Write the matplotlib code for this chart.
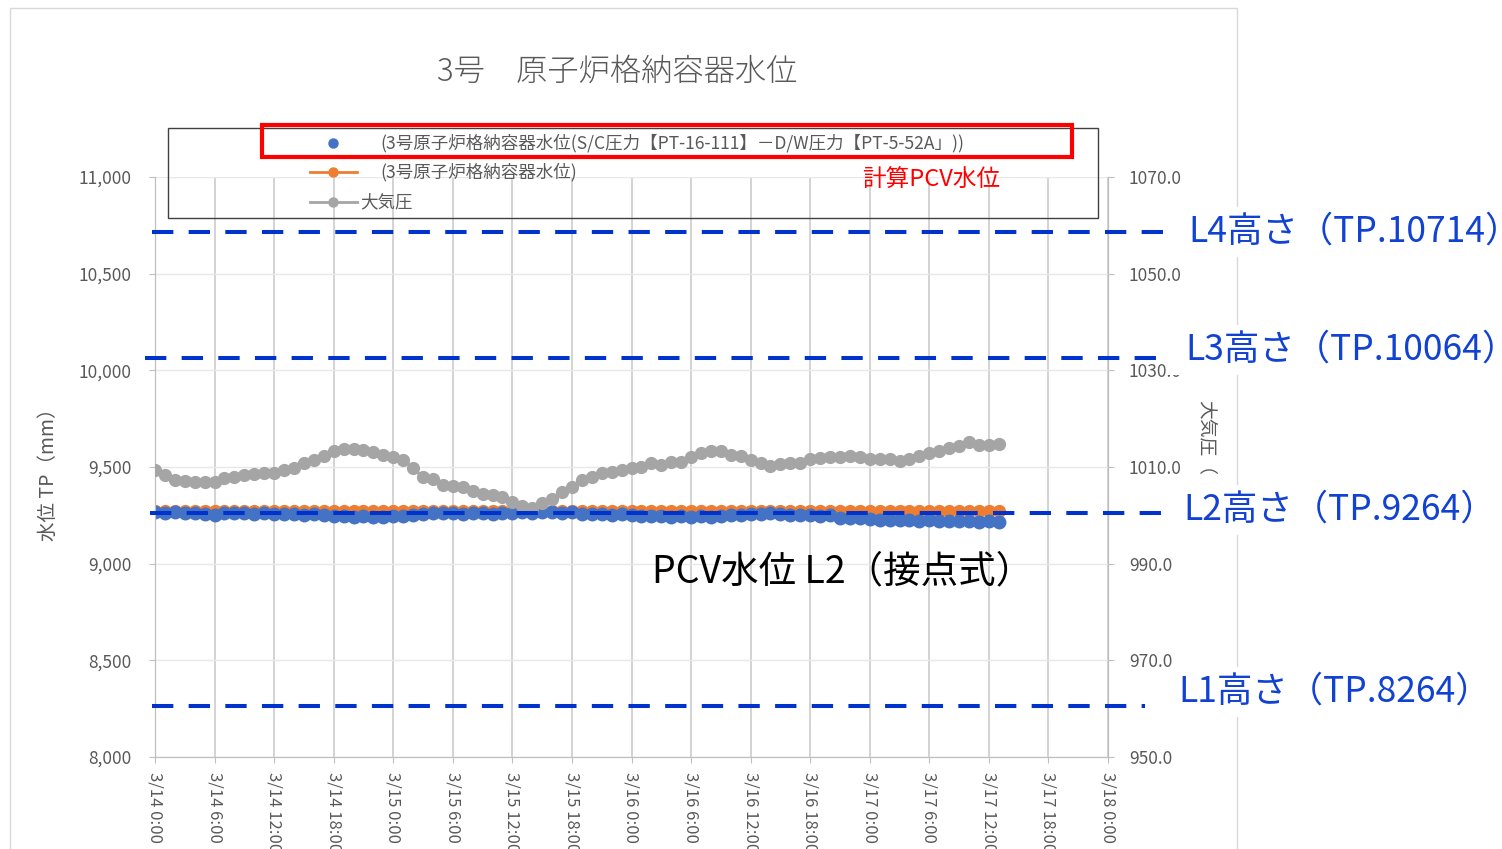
import matplotlib
matplotlib.use('Agg')
import matplotlib.pyplot as plt
import matplotlib.transforms as mtransforms
from matplotlib.lines import Line2D
from matplotlib.patches import Rectangle
import pandas as pd

plt.rcParams['font.family'] = ['Noto Sans CJK JP', 'DejaVu Sans']

# DATA (hourly, 3/14 0:00 - 3/17 13:00)
times = pd.date_range('2022-03-14 00:00', periods=86, freq='h')

# 3号 原子炉格納容器水位 (S/C圧力 - D/W圧力) [mm]
pcv_level = [
    9265, 9264, 9266, 9262, 9260, 9255, 9250, 9262, 9260, 9262,
    9258, 9260, 9258, 9255, 9256, 9252, 9255, 9250, 9248, 9245,
    9242, 9245, 9240, 9243, 9245, 9248, 9250, 9255, 9262, 9260,
    9262, 9258, 9260, 9262, 9258, 9260, 9262, 9265, 9264, 9265,
    9266, 9264, 9265, 9258, 9255, 9256, 9252, 9255, 9250, 9248,
    9245, 9248, 9242, 9245, 9240, 9244, 9242, 9245, 9250, 9252,
    9255, 9258, 9260, 9255, 9252, 9250, 9252, 9248, 9250, 9238,
    9235, 9236, 9232, 9228, 9226, 9225, 9224, 9222, 9225, 9222,
    9220, 9222, 9220, 9218, 9220, 9218,
]

# 3号 原子炉格納容器水位 (計算PCV水位) [mm]
calc_level = [
    9272, 9272, 9273, 9272, 9272, 9272, 9271, 9272, 9272, 9273,
    9272, 9272, 9272, 9272, 9273, 9272, 9272, 9272, 9271, 9272,
    9272, 9272, 9272, 9273, 9272, 9272, 9272, 9272, 9272, 9271,
    9272, 9272, 9273, 9272, 9272, 9272, 9272, 9272, 9271, 9272,
    9272, 9273, 9272, 9272, 9272, 9272, 9272, 9271, 9272, 9272,
    9272, 9273, 9272, 9272, 9272, 9272, 9272, 9271, 9272, 9272,
    9272, 9273, 9272, 9272, 9272, 9272, 9272, 9271, 9272, 9272,
    9272, 9273, 9272, 9272, 9272, 9272, 9272, 9271, 9272, 9272,
    9272, 9273, 9272, 9272, 9272, 9272,
]

# 大気圧 [hPa]
pressure = [
    1009.4, 1008.3, 1007.3, 1007.1, 1006.8, 1007.0, 1007.0, 1007.7, 1007.9, 1008.3,
    1008.5, 1008.8, 1008.8, 1009.4, 1009.7, 1010.9, 1011.4, 1012.3, 1013.4, 1013.7,
    1013.7, 1013.5, 1013.2, 1012.5, 1012.0, 1011.4, 1009.7, 1007.9, 1007.5, 1006.3,
    1006.1, 1005.9, 1005.1, 1004.5, 1004.2, 1003.7, 1002.8, 1001.9, 1001.6, 1002.6,
    1003.3, 1004.9, 1005.9, 1007.3, 1007.9, 1008.7, 1009.0, 1009.4, 1009.7, 1010.1,
    1010.8, 1010.4, 1011.1, 1011.1, 1012.1, 1012.8, 1013.4, 1013.4, 1012.5, 1012.3,
    1011.4, 1010.9, 1010.2, 1010.6, 1010.9, 1010.9, 1011.6, 1011.8, 1012.0, 1012.1,
    1012.3, 1012.0, 1011.6, 1011.6, 1011.6, 1011.3, 1011.6, 1012.3, 1013.0, 1013.4,
    1013.9, 1014.3, 1015.2, 1014.5, 1014.5, 1014.8,
]

# 接点式水位計 高さ
level_names = ['L4', 'L3', 'L2', 'L1']
level_values = [10714, 10064, 9264, 8264]

x_ticks = pd.date_range('2022-03-14 00:00', '2022-03-18 00:00', freq='6h')
x_tick_labels = [f'{t.month}/{t.day} {t.hour}:00' for t in x_ticks]
left_ticks = [8000, 8500, 9000, 9500, 10000, 10500, 11000]
right_ticks = [950, 970, 990, 1010, 1030, 1050, 1070]

# STYLE
W, H = 1502, 849
BLUE = '#4472C4'
ORANGE = '#ED7D31'
GRAY = '#A5A5A5'
TXT = '#595959'
DASH = '#0033CC'
LBL = '#1142D2'


def fx(x):
    return x / W


def fy(y):
    return 1 - y / H


fig = plt.figure(figsize=(W / 100, H / 100), dpi=100)
ax = fig.add_axes([fx(155), fy(757), (1108 - 155) / W, (757 - 177) / H])
ax2 = ax.twinx()

# series
ax.plot(times, calc_level, color=ORANGE, lw=2.2, marker='o', ms=8.5, zorder=3)
ax.plot(times, pcv_level, color=BLUE, ls='none', marker='o', ms=9, zorder=4)
ax2.plot(times, pressure, color=GRAY, lw=2.2, marker='o', ms=8.5, zorder=3)

ax.set_xlim(x_ticks[0], x_ticks[-1])
ax.set_ylim(8000, 11000)
ax2.set_ylim(950, 1070)

ax.set_xticks(x_ticks)
ax.set_xticklabels(x_tick_labels, rotation=270, ha='center', va='top')
ax.set_yticks(left_ticks)
ax.set_yticklabels([f'{v:,}' for v in left_ticks])
ax2.set_yticks(right_ticks)
ax2.set_yticklabels([f'{v:.1f}' for v in right_ticks])

ax.tick_params(axis='x', colors='#BFBFBF', labelcolor=TXT, labelsize=12, length=4, pad=7)
ax.tick_params(axis='y', colors='#BFBFBF', labelcolor=TXT, labelsize=12.5, length=4, pad=13)
ax2.tick_params(axis='y', colors='#BFBFBF', labelcolor=TXT, labelsize=12.5, length=4, pad=11)

ax.grid(axis='x', color='#D0D0D0', lw=1.3)
ax.grid(axis='y', color='#E8E8E8', lw=1.0)
ax.set_axisbelow(True)
for a in (ax, ax2):
    a.spines['top'].set_visible(False)
    for s in ('left', 'right', 'bottom'):
        a.spines[s].set_color('#BFBFBF')

# dashed level lines (drawn on top, extend past the plot)
dash_extent = [(-0.003, 1.063), (-0.0105, 1.060), (-0.005, 1.060), (-0.003, 1.039)]
blend = mtransforms.blended_transform_factory(ax2.transAxes, ax.transData)
for val, (x0, x1) in zip(level_values, dash_extent):
    ax2.plot([x0, x1], [val, val], transform=blend, color=DASH, lw=2.9,
             dashes=(5.3, 3.8), clip_on=False, zorder=10)

# chart border
fig.add_artist(Rectangle((fx(10), fy(870)), (1237 - 10) / W, (870 - 8) / H,
                         transform=fig.transFigure, fill=False, ec='#D9D9D9', lw=1.0, zorder=1))

# title
fig.text(fx(617), fy(72), '3号　原子炉格納容器水位', ha='center', va='center',
         fontsize=22.5, fontweight='light', color=TXT)

# legend
fig.add_artist(Rectangle((fx(168), fy(218)), (1098 - 168) / W, (218 - 128) / H,
                         transform=fig.transFigure, fill=False, ec='#404040', lw=1.0, zorder=2))
fig.add_artist(Line2D([fx(333)], [fy(143)], transform=fig.transFigure, color=BLUE,
                      ls='none', marker='o', ms=6.5, zorder=3))
fig.add_artist(Line2D([fx(310), fx(333), fx(357)], [fy(172)] * 3, transform=fig.transFigure,
                      color=ORANGE, lw=2.0, marker='o', ms=6.5, markevery=[1], zorder=3))
fig.add_artist(Line2D([fx(310), fx(333), fx(357)], [fy(202)] * 3, transform=fig.transFigure,
                      color=GRAY, lw=2.0, marker='o', ms=6.5, markevery=[1], zorder=3))
fig.text(fx(380), fy(143), '(3号原子炉格納容器水位(S/C圧力【PT-16-111】－D/W圧力【PT-5-52A」))',
         ha='left', va='center', fontsize=12.6, color=TXT)
fig.text(fx(380), fy(172), '(3号原子炉格納容器水位)', ha='left', va='center', fontsize=12.6, color=TXT)
fig.text(fx(360), fy(202), '大気圧', ha='left', va='center', fontsize=12.6, color=TXT)
fig.add_artist(Rectangle((fx(262), fy(157)), (1072 - 262) / W, (157 - 125) / H,
                         transform=fig.transFigure, fill=False, ec='#FF0000', lw=3.0, zorder=4))
fig.text(fx(862), fy(180), '計算PCV水位', ha='left', va='center', fontsize=17, color='#FF0000')

# axis titles
fig.text(fx(48), fy(470), '水位 TP（mm）', rotation=90, ha='center', va='center',
         fontsize=14, color=TXT)
fig.text(fx(1207), fy(400), '大気圧（', rotation=270, ha='center', va='top',
         fontsize=13.5, color=TXT)

# level labels
label_pos = [(1188, 232), (1185, 350), (1183, 510), (1178, 692)]
for name, val, (lx, ly) in zip(level_names, level_values, label_pos):
    fig.add_artist(Rectangle((fx(1166), fy(ly + 25)), (W - 1166) / W, 50 / H,
                             transform=fig.transFigure, fc='white', ec='none', zorder=5))
    fig.text(fx(lx), fy(ly), f'{name}高さ（TP.{val}）', ha='left', va='center',
             fontsize=25.5, color=LBL, zorder=6)

fig.text(fx(652), fy(572), 'PCV水位 L2（接点式）', ha='left', va='center',
         fontsize=27, color='black', zorder=6)

fig.savefig('out.png', dpi=100)
